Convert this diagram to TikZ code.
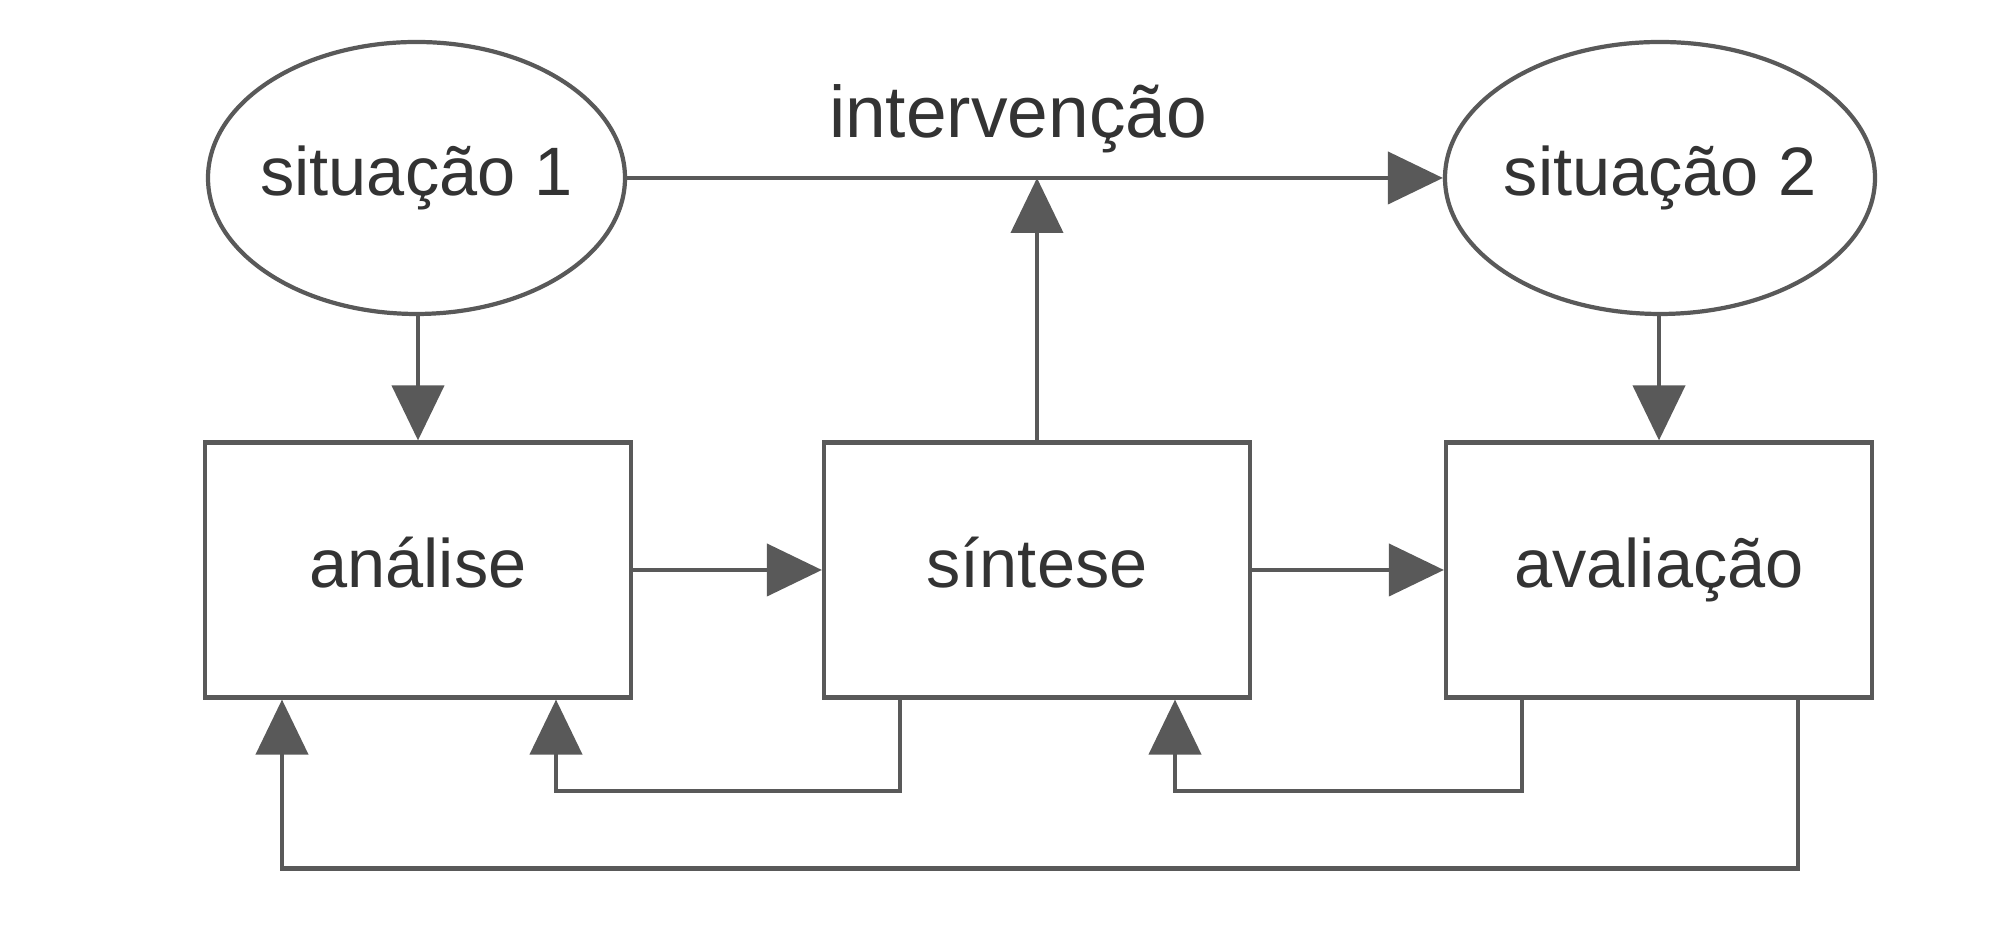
\documentclass[tikz,border=0pt]{standalone}
\usepackage{fontspec}
\setmainfont{Liberation Sans}
\usetikzlibrary{shapes.geometric,arrows.meta}
\definecolor{diagramgray}{HTML}{595959}
\definecolor{labelgray}{HTML}{333333}
\newcommand{\flowcolor}{diagramgray}

\tikzset{
  stagebox/.style={draw=\flowcolor, line width=1.2pt, minimum width=4.26cm, minimum height=2.55cm, inner sep=0pt, text=labelgray, text height=1.15em, text depth=0.18em},
  stateoval/.style={ellipse, draw=\flowcolor, line width=1.2pt, minimum height=2.72cm, inner xsep=-0.2cm, inner ysep=0pt, text=labelgray, text height=1.15em, text depth=0.18em},
  flowarrow/.style={-{Triangle[length=5.5mm,width=5.2mm]}, draw=\flowcolor, line width=1.2pt},
}

\begin{document}
\begin{tikzpicture}[font=\fontsize{19.5}{23}\selectfont]

\useasboundingbox (0,0) rectangle (20,9.36);

\node[stateoval, minimum width=4.17cm] (sit1) at (4.165, 7.58) {situação 1};
\node[stateoval, minimum width=4.30cm] (sit2) at (16.60, 7.58) {situação 2};
\node[text=labelgray, font=\fontsize{20.8}{24}\selectfont] (interv) at (10.18, 8.17) {intervenção};

\node[stagebox] (analise) at (4.18, 3.66) {análise};
\node[stagebox] (sintese) at (10.37, 3.66) {síntese};
\node[stagebox] (avaliacao) at (16.59, 3.66) {avaliação};

%\draw[help lines] (0,0) grid (20,9);

\draw[flowarrow] (sit1.east) -- (sit2.west);
\draw[flowarrow] (sintese.north) -- (sintese.north |- sit1.east);
\draw[flowarrow] (analise.north |- sit1.south) -- (analise.north);
\draw[flowarrow] (avaliacao.north |- sit2.south) -- (avaliacao.north);

\draw[flowarrow] (analise.east) -- (sintese.west);
\draw[flowarrow] (sintese.east) -- (avaliacao.west);

% feedback loops
\coordinate (lowA) at (0, 1.45);
\coordinate (lowB) at (0, 0.674);

\coordinate (fbA) at ([xshift=-1.37cm]sintese.south);
\coordinate (fbB) at ([xshift=1.38cm]analise.south);
\draw[flowarrow] (fbA) -- (fbA |- lowA) -| (fbB);

\coordinate (fbC) at ([xshift=-1.37cm]avaliacao.south);
\coordinate (fbD) at ([xshift=1.38cm]sintese.south);
\draw[flowarrow] (fbC) -- (fbC |- lowA) -| (fbD);

\coordinate (fbE) at ([xshift=1.39cm]avaliacao.south);
\coordinate (fbF) at ([xshift=-1.36cm]analise.south);
\draw[flowarrow] (fbE) -- (fbE |- lowB) -| (fbF);

\end{tikzpicture}
\end{document}
